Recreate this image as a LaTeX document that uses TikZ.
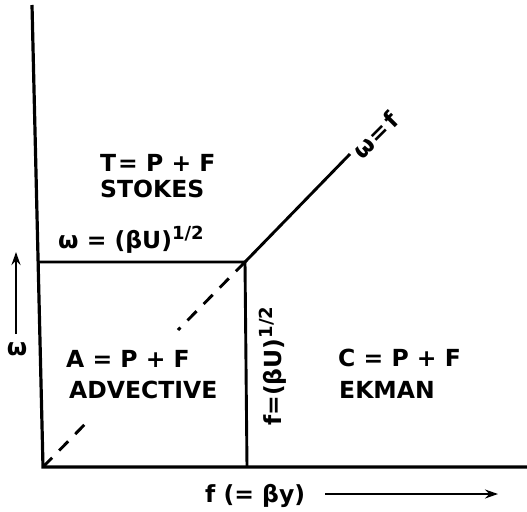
\documentclass[tikz,border=0pt]{standalone}
\usepackage{fontspec}
\setmainfont{DejaVu Sans}
\usetikzlibrary{arrows.meta}
\newcommand{\halfexp}{\raisebox{9pt}{\fontsize{18}{20}\selectfont 1/2}}
\begin{document}
\begin{tikzpicture}[x=1pt,y=-1pt,
  axis/.style={line width=3.2pt},
  bnd/.style={line width=2.9pt},
  lbl/.style={font=\fontsize{23.5}{28}\selectfont\bfseries, inner sep=0pt},
  arr/.style={line width=2.2pt,-{Stealth[length=13pt,width=9pt]}}]
\useasboundingbox (0,0) rectangle (527,511);
\coordinate (top) at (32,5);
\coordinate (O) at (43,467);
\coordinate (xend) at (527,467);
\coordinate (yc) at (38,262);
\coordinate (P) at (245,262);
\coordinate (Q) at (247,467);
\coordinate (D) at (350,154);
\coordinate (g0) at (90,419);
\coordinate (g1) at (178,330);
\draw[axis] (top) -- (O) -- (xend);
\draw[bnd] (yc) -- (P) -- (Q);
\draw[bnd] (P) -- (D);
\draw[bnd, dash pattern=on 13pt off 10pt] (O) -- (g0);
\draw[bnd, dash pattern=on 13pt off 10pt] (P) -- (g1);
\node[lbl, anchor=base west, rotate=45] (wf) at (362,161) {ω{\kern2pt}={\kern2pt}f};
\node[lbl, anchor=base west] (t1) at (100,171) {T{\kern2pt}= P + F};
\node[lbl, anchor=base west] (t2) at (100,197) {STOKES};
\node[lbl, anchor=base west] (wl) at (58,248) {ω = (βU)\halfexp};
\node[lbl, anchor=base west] (a1) at (66,367) {A = P + F};
\node[lbl, anchor=base west] (a2) at (69,398) {ADVECTIVE};
\node[lbl, anchor=base west] (c1) at (338,366) {C = P + F};
\node[lbl, anchor=base west] (c2) at (339,398) {EKMAN};
\node[lbl, anchor=base west, rotate=90] (fl) at (281,426) {f=(βU)\halfexp};
\node[lbl, anchor=base] (wy) at (17,355) {ω};
\coordinate (wa0) at (16,334);
\coordinate (wa1) at (16,252);
\draw[arr] (wa0) -- (wa1);
\node[lbl, anchor=base west] (fx) at (205,502) {f (= βy)};
\coordinate (fa0) at (325,494);
\coordinate (fa1) at (498,494);
\draw[arr] (fa0) -- (fa1);
\end{tikzpicture}
\end{document}
